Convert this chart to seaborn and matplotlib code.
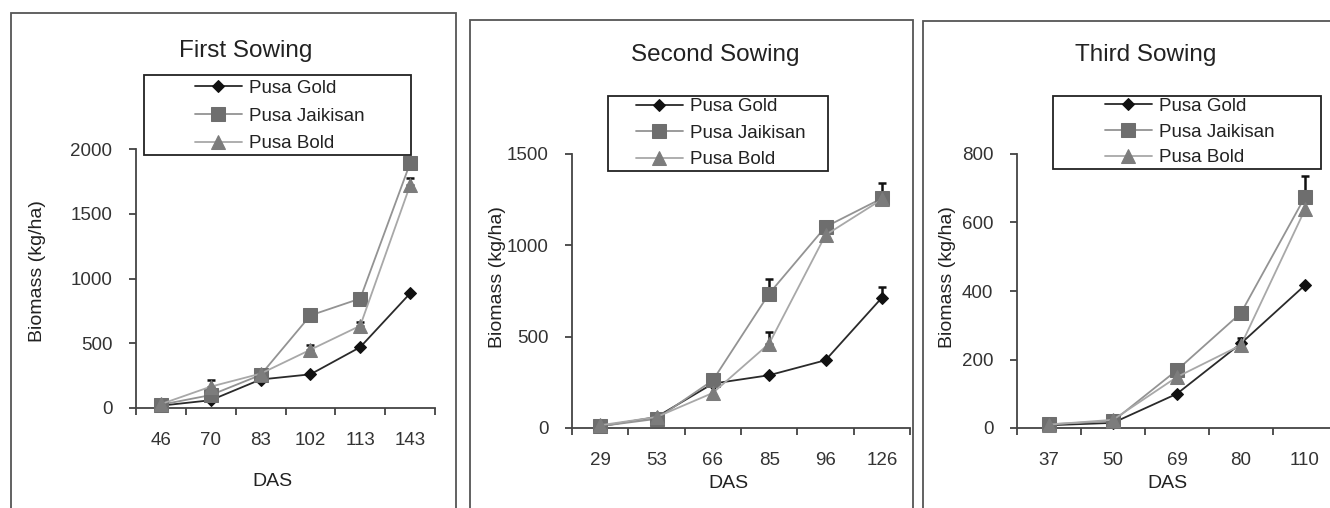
import numpy as np
import pandas as pd
import matplotlib
matplotlib.use("Agg")
import matplotlib.pyplot as plt
import seaborn as sns
from matplotlib.patches import Rectangle

sns.set_style("ticks")
plt.rcParams['font.family'] = ['Liberation Sans', 'DejaVu Sans']
plt.rcParams['text.color'] = '#222222'
plt.rcParams['axes.labelcolor'] = '#222222'
plt.rcParams['xtick.color'] = '#333333'
plt.rcParams['ytick.color'] = '#333333'

nan = np.nan
varieties = ['Pusa Gold', 'Pusa Jaikisan', 'Pusa Bold']

# first sowing
das_first = [46, 70, 83, 102, 113, 143]
gold_first = [18, 60, 220, 260, 470, 885]
jaikisan_first = [25, 100, 255, 715, 845, 1890]
bold_first = [30, 165, 265, 450, 635, 1720]
gold_first_err = [nan] * 6
jaikisan_first_err = [nan] * 6
bold_first_err = [nan, 50, nan, 36, 31, 53]

# second sowing
das_second = [29, 53, 66, 85, 96, 126]
gold_second = [9, 60, 243, 289, 371, 713]
jaikisan_second = [10, 50, 261, 736, 1101, 1257]
bold_second = [15, 60, 192, 462, 1056, 1251]
gold_second_err = [nan, nan, nan, nan, nan, 60]
jaikisan_second_err = [nan, nan, nan, 82, nan, 82]
bold_second_err = [nan, nan, nan, 64, nan, nan]

# third sowing
das_third = [37, 50, 69, 80, 110]
gold_third = [8, 15, 100, 247, 417]
jaikisan_third = [11, 20, 169, 336, 675]
bold_third = [10, 24, 149, 242, 638]
gold_third_err = [nan] * 5
jaikisan_third_err = [nan, nan, nan, nan, 61]
bold_third_err = [nan, nan, nan, 21, nan]

styles = [
    dict(marker='D', ms=6.5, mc='#111111', line='#2a2a2a'),
    dict(marker='s', ms=10, mc='#6e6e6e', line='#939393'),
    dict(marker='^', ms=10, mc='#7c7c7c', line='#a8a8a8'),
]

W, H = 1330, 508
fig = plt.figure(figsize=(W / 100, H / 100), dpi=100)
fig.patch.set_facecolor('white')


def fx(x):
    return x / W


def fy(y):
    return 1 - y / H


def panel(title, das, series, errs, ymax, ystep, box, frame, title_xy,
          leg_box, leg_c, leg_sp, ylab_xy, xlab_xy):
    left, top, right, bottom = box
    ax = fig.add_axes([fx(left), fy(bottom), (right - left) / W, (bottom - top) / H])
    ax.patch.set_alpha(0)

    x = np.arange(len(das))
    for name, vals, err, st in zip(varieties, series, errs, styles):
        df = pd.DataFrame({'x': x, 'y': vals})
        sns.lineplot(data=df, x='x', y='y', ax=ax, color=st['line'], lw=1.3,
                     marker=st['marker'], markersize=st['ms'],
                     markerfacecolor=st['mc'], markeredgecolor=st['mc'],
                     label=name, errorbar=None, clip_on=False, zorder=3)
        e = np.asarray(err, float)
        ok = ~np.isnan(e)
        if ok.any():
            v = np.asarray(vals, float)
            ax.errorbar(x[ok], v[ok], yerr=[np.zeros(ok.sum()), e[ok]], fmt='none',
                        ecolor='#111111', elinewidth=1.8, capsize=3, capthick=1.8,
                        zorder=2, clip_on=False)

    ax.set_xlim(-0.5, len(das) - 0.5)
    ax.set_xticks(x)
    ax.set_xticklabels([str(d) for d in das])
    ax.set_xticks(np.arange(len(das) + 1) - 0.5, minor=True)
    ax.tick_params(axis='x', which='major', length=0, pad=17, labelsize=13.5)
    ax.tick_params(axis='x', which='minor', length=5, width=1.2, direction='out')
    ax.set_ylim(0, ymax)
    ax.set_yticks(np.arange(0, ymax + 1, ystep))
    ax.tick_params(axis='y', length=5, width=1.2, direction='out', pad=12, labelsize=13.5)
    sns.despine(ax=ax)
    for s in ['left', 'bottom']:
        ax.spines[s].set_color('#444444')
        ax.spines[s].set_linewidth(1.3)

    ax.set_xlabel('DAS', fontsize=14, va='center')
    ax.xaxis.set_label_coords(fx(xlab_xy[0]), fy(xlab_xy[1]), transform=fig.transFigure)
    ax.set_ylabel('Biomass (kg/ha)', fontsize=14, va='center')
    ax.yaxis.set_label_coords(fx(ylab_xy[0]), fy(ylab_xy[1]), transform=fig.transFigure)

    ax.set_title(title, fontsize=17.5, va='center', pad=0,
                 x=(title_xy[0] - left) / (right - left),
                 y=(bottom - title_xy[1]) / (bottom - top))

    handles, labels = ax.get_legend_handles_labels()
    ax.legend(handles, labels, loc='center', bbox_to_anchor=(fx(leg_c[0]), fy(leg_c[1])),
              bbox_transform=fig.transFigure, frameon=False, fontsize=13.5,
              handlelength=2.5, handletextpad=0.4, labelspacing=leg_sp, numpoints=1)
    lx0, ly0, lx1, ly1 = leg_box
    fig.add_artist(Rectangle((fx(lx0), fy(ly1)), (lx1 - lx0) / W, (ly1 - ly0) / H,
                             transform=fig.transFigure, fill=False, ec='#222222', lw=1.3))

    frx0, fry0, frx1, fry1 = frame
    fig.add_artist(Rectangle((fx(frx0), fy(fry1)), (frx1 - frx0) / W, (fry1 - fry0) / H,
                             transform=fig.transFigure, fill=False, ec='#555555', lw=1.3))
    return ax


panel('First Sowing', das_first, [gold_first, jaikisan_first, bold_first],
      [gold_first_err, jaikisan_first_err, bold_first_err], 2000, 500,
      box=(136, 149, 435, 408), frame=(11, 13, 456, 530), title_xy=(246, 51),
      leg_box=(144, 75, 411, 155), leg_c=(280, 116), leg_sp=0.57,
      ylab_xy=(37, 271), xlab_xy=(272, 482))

panel('Second Sowing', das_second, [gold_second, jaikisan_second, bold_second],
      [gold_second_err, jaikisan_second_err, bold_second_err], 1500, 500,
      box=(572, 154, 910, 428), frame=(470, 20, 913, 530), title_xy=(715, 55),
      leg_box=(608, 96, 828, 171), leg_c=(721, 133), leg_sp=0.5,
      ylab_xy=(497, 277), xlab_xy=(728, 483))

panel('Third Sowing', das_third, [gold_third, jaikisan_third, bold_third],
      [gold_third_err, jaikisan_third_err, bold_third_err], 800, 200,
      box=(1017, 154, 1337, 428), frame=(923, 21, 1340, 530), title_xy=(1146, 55),
      leg_box=(1053, 96, 1321, 169), leg_c=(1190, 132), leg_sp=0.47,
      ylab_xy=(948, 277), xlab_xy=(1167, 483))

fig.savefig('out.png', dpi=100, facecolor='white')
